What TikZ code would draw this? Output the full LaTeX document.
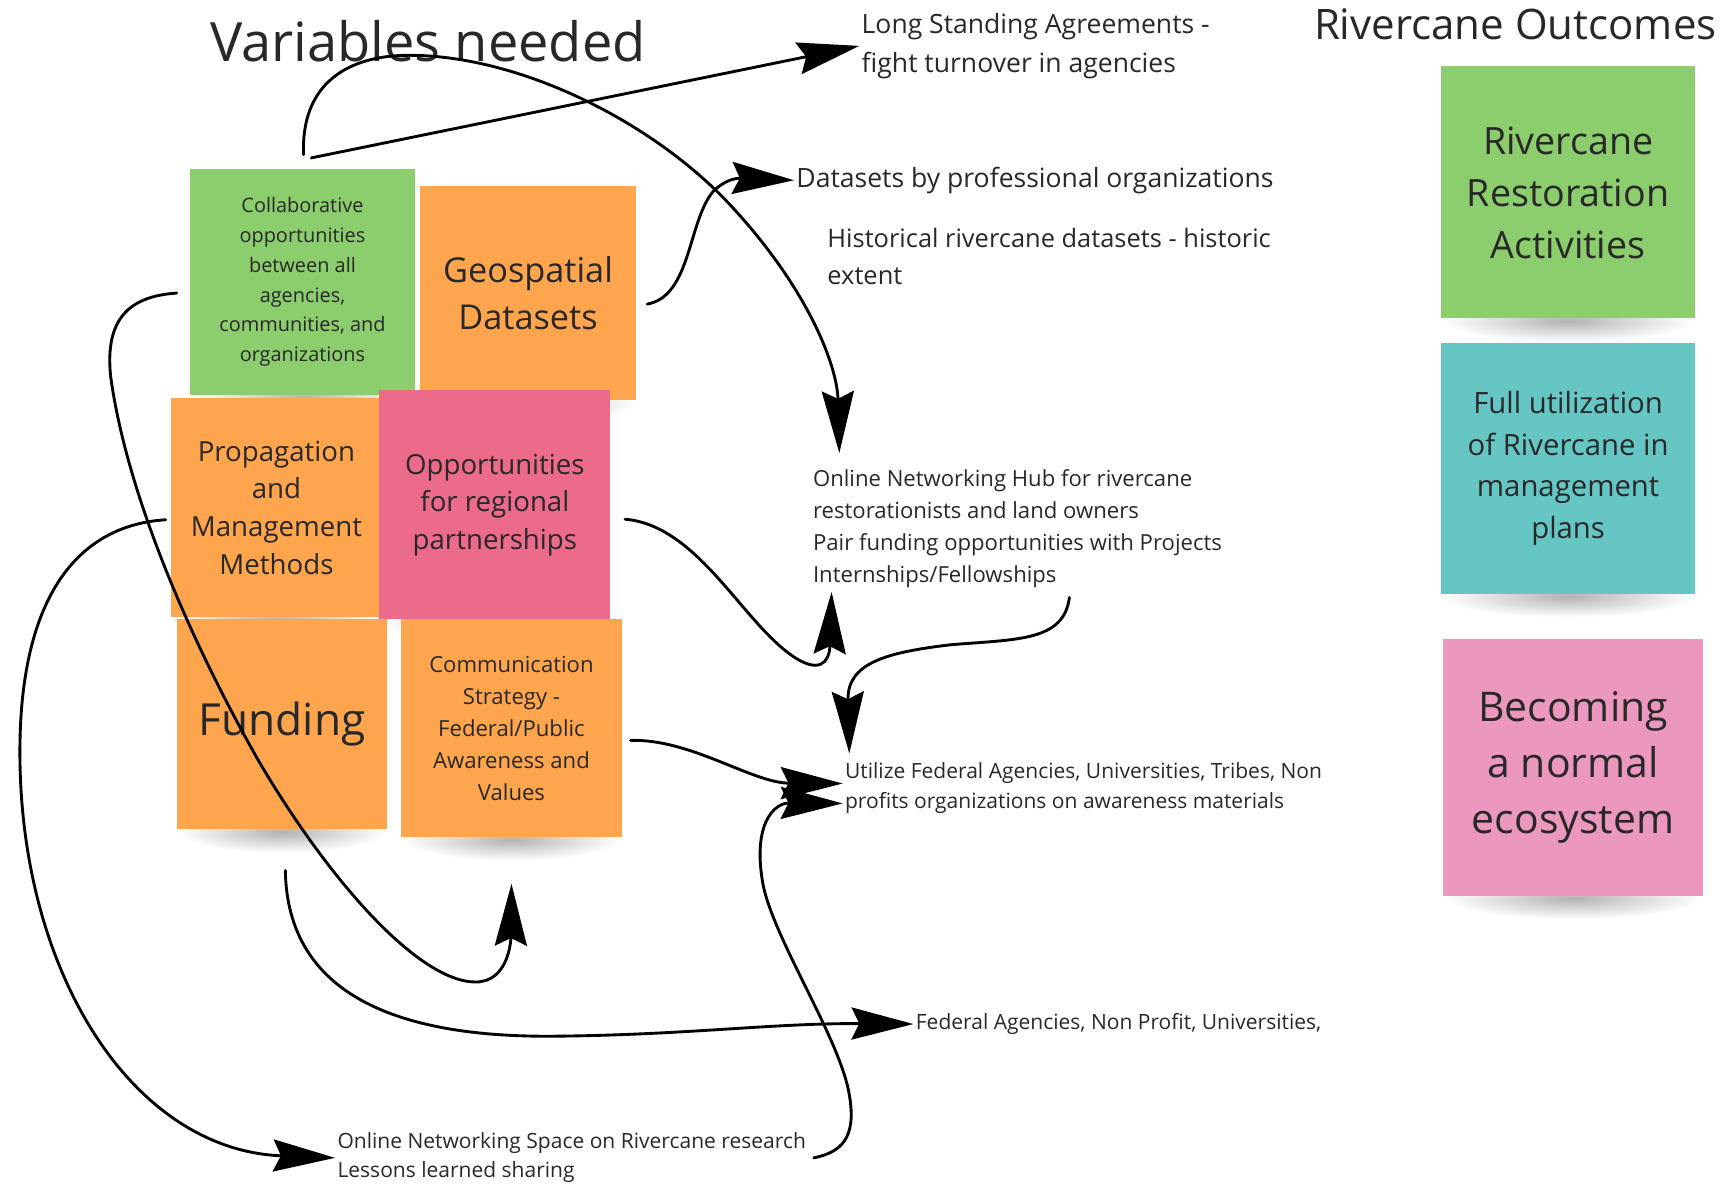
\documentclass[tikz,border=0pt]{standalone}
\usepackage{fontspec}
\setmainfont{Open Sans}
\usetikzlibrary{arrows.meta,calc}
\pgfdeclarelayer{bg}
\pgfsetlayers{bg,main}
\definecolor{notegreen}{RGB}{140,205,110}
\definecolor{noteorange}{RGB}{255,165,78}
\definecolor{notered}{RGB}{236,106,138}
\definecolor{noteteal}{RGB}{102,198,196}
\definecolor{notepink}{RGB}{236,152,190}
\definecolor{inktext}{RGB}{40,40,40}
\newcommand{\fs}[2]{\fontsize{#1pt}{#2pt}\selectfont}
\begin{document}
\begin{tikzpicture}[x=1pt,y=-1pt,
  note/.style={rectangle, inner sep=4pt, align=center, text=inktext},
  plain/.style={inner sep=2pt, align=left, anchor=west, text=inktext},
  conn/.style={line width=2.6pt, line cap=round, -{Stealth[length=56pt,width=29pt,inset=7pt]}}]
\useasboundingbox (0,0) rectangle (1568,1070);

% titles
\node[inner sep=0, anchor=west, text=inktext, font=\fs{49}{58}] (title1) at (190,37) {Variables needed};
\node[inner sep=0, anchor=west, text=inktext, font=\fs{38}{46}] (title2) at (1188,22) {Rivercane Outcomes};

% sticky notes
\node[note, fill=notegreen, minimum width=203pt, minimum height=204pt, font=\fs{18}{27}] (collab) at (273.5,255)
  {Collaborative\\opportunities\\between all\\agencies,\\communities, and\\organizations};
\node[note, fill=noteorange, minimum width=195pt, minimum height=194pt, font=\fs{31}{43}] (geo) at (477.5,265)
  {Geospatial\\Datasets};
\node[note, fill=noteorange, minimum width=190pt, minimum height=198pt, font=\fs{25}{34}] (prop) at (250,459)
  {Propagation\\and\\Management\\Methods};
\node[note, fill=notered, minimum width=209pt, minimum height=207pt, font=\fs{25}{34}] (opp) at (447.5,456.5)
  {Opportunities\\for regional\\partnerships};
\node[note, fill=noteorange, minimum width=190pt, minimum height=190pt, font=\fs{40}{48}] (fund) at (255,655)
  {Funding};
\node[note, fill=noteorange, minimum width=199pt, minimum height=197pt, font=\fs{20}{29}] (comm) at (462.5,658.5)
  {Communication\\Strategy -\\Federal/Public\\Awareness and\\Values};
\node[note, fill=notegreen, minimum width=230pt, minimum height=228pt, font=\fs{34}{47}] (rra) at (1418,174)
  {Rivercane\\Restoration\\Activities};
\node[note, fill=noteteal, minimum width=230pt, minimum height=227pt, font=\fs{26.5}{37.5}] (full) at (1418,423.5)
  {Full utilization\\of Rivercane in\\management\\plans};
\node[note, fill=notepink, minimum width=235pt, minimum height=232pt, font=\fs{37}{51}] (becoming) at (1422.5,694)
  {Becoming\\a normal\\ecosystem};

% shadows under the notes
\begin{pgfonlayer}{bg}
\foreach \n/\r in {collab/100, geo/96, prop/94, opp/102, fund/94, comm/98, rra/114, full/114, becoming/116}{
  \shade[inner color=black!30, outer color=white] ($(\n.south)+(0,2)$) ellipse [x radius=\r, y radius=19];
}
\end{pgfonlayer}

% free texts
\node[plain, font=\fs{24}{35}] (lsa) at (777,41.5) {Long Standing Agreements -\\fight turnover in agencies};
\node[plain, font=\fs{24}{30}] (dbp) at (718,163) {Datasets by professional organizations};
\node[plain, font=\fs{23}{33}] (hist) at (746,232) {Historical rivercane datasets - historic\\extent};
\node[plain, font=\fs{20}{28.7}] (hub) at (733,478) {Online Networking Hub for rivercane\\restorationists and land owners\\Pair funding opportunities with Projects\\Internships/Fellowships};
\node[plain, font=\fs{19}{27}] (util) at (762,712.5) {Utilize Federal Agencies, Universities, Tribes, Non\\profits organizations on awareness materials};
\node[plain, font=\fs{19}{24}] (fed) at (826,926) {Federal Agencies, Non Profit, Universities,};
\node[plain, font=\fs{19}{26}] (ons) at (303,1047) {Online Networking Space on Rivercane research\\Lessons learned sharing};

% connectors
\draw[conn] ($(collab.north)+(8,-10)$) -- (lsa.west);
\draw[conn] ($(collab.north)+(1,-13)$) .. controls (272,75) and (315,50) .. (370,50)
  .. controls (470,50) and (590,110) .. (660,185)
  .. controls (730,260) and (757,330) .. ($(hub.north west)+(26,-13)$);
\draw[conn] ($(geo.east)+(10,10)$) .. controls (625,268) and (622,200) .. (645,173)
  .. controls (655,163) and (665,161) .. (dbp.west);
\draw[conn] ($(collab.west)+(-12,10)$) .. controls (115,268) and (95,290) .. (100,340)
  .. controls (115,450) and (175,585) .. (235,690)
  .. controls (300,800) and (380,888) .. (430,888)
  .. controls (460,888) and (462,850) .. ($(comm.south)+(0,42)$);
\draw[conn] ($(opp.east)+(13,13)$) .. controls (630,475) and (670,560) .. (715,592)
  .. controls (740,610) and (750,600) .. ($(hub.south west)+(19,2)$);
\draw[conn] ($(hub.south west)+(234,7)$) .. controls (962,580) and (920,578) .. (860,583)
  .. controls (800,590) and (766,600) .. ($(util.north west)+(6,-6)$);
\draw[conn] ($(comm.east)+(8,11)$) .. controls (625,668) and (680,708) .. ($(util.west)+(0,-4)$);
\draw[conn] ($(ons.east)+(5,0)$) .. controls (760,1042) and (775,1030) .. (768,990)
  .. controls (760,940) and (700,850) .. (690,800)
  .. controls (680,745) and (700,726) .. ($(util.west)+(0,14)$);
\draw[conn] ($(fund.south)+(3,37)$) .. controls (260,900) and (360,938) .. (500,937)
  .. controls (620,936) and (700,925) .. (fed.west);
\draw[conn] ($(prop.west)+(-5,11)$) .. controls (70,475) and (18,540) .. (18,680)
  .. controls (18,880) and (120,1040) .. (ons.west);
\end{tikzpicture}
\end{document}
